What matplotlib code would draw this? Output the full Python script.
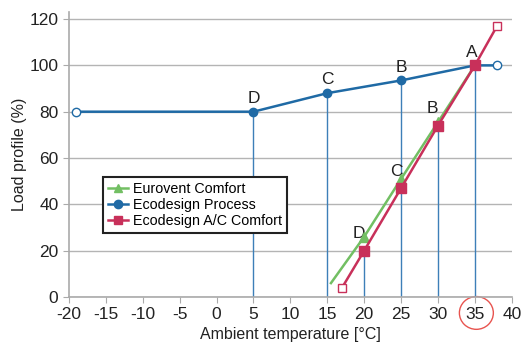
import matplotlib.pyplot as plt
from matplotlib.patches import Ellipse
from matplotlib.transforms import blended_transform_factory

plt.rcParams['font.family'] = ['Liberation Sans', 'DejaVu Sans']
plt.rcParams['axes.unicode_minus'] = False

# Ecodesign Process
proc_x = [5, 15, 25, 35]
proc_y = [80, 88, 93.5, 100]
proc_labels = ['D', 'C', 'B', 'A']
proc_ext_x = [-19, 38]
proc_ext_y = [80, 100]

# Ecodesign A/C Comfort
ac_x = [20, 25, 30, 35]
ac_y = [20, 47, 74, 100]
ac_labels = ['D', 'C', 'B', '']
ac_ext_x = [17, 38]
ac_ext_y = [4, 117]

# Eurovent Comfort
euro_x = [20, 25, 30, 35]
euro_y = [26, 51, 75.5, 100]
euro_start = (15.5, 6)

blue = '#1f6aa5'
vblue = '#3d7fb8'
red = '#c8305a'
green = '#72bf63'

fig = plt.figure(figsize=(5.26, 3.42), dpi=100)
ax = fig.add_axes([0.131, 0.1316, 0.842, 0.833])

# vertical drop lines from the process points and two A/C points
for x, y in zip(proc_x + [ac_x[0], ac_x[2]], proc_y + [ac_y[0], ac_y[2]]):
    ax.plot([x, x], [0, y], color=vblue, lw=1.0, zorder=2)

# Ecodesign Process line
ax.plot([proc_ext_x[0]] + proc_x + [proc_ext_x[1]],
        [proc_ext_y[0]] + proc_y + [proc_ext_y[1]],
        color=blue, lw=1.8, zorder=3)
ax.plot(proc_x, proc_y, 'o', color=blue, ms=6, zorder=4)
ax.plot(proc_ext_x, proc_ext_y, 'o', mfc='white', mec=blue, ms=6, mew=1, zorder=4)

# Eurovent Comfort
ax.plot([euro_start[0]] + euro_x, [euro_start[1]] + euro_y, color=green, lw=1.8, zorder=3)
ax.plot(euro_x[:3], euro_y[:3], '^', color=green, ms=7, zorder=4)

# Ecodesign A/C Comfort
ax.plot([ac_ext_x[0]] + ac_x + [ac_ext_x[1]],
        [ac_ext_y[0]] + ac_y + [ac_ext_y[1]],
        color=red, lw=1.8, zorder=5)
ax.plot(ac_x, ac_y, 's', color=red, ms=6.5, zorder=6)
ax.plot(ac_ext_x, ac_ext_y, 's', mfc='white', mec=red, ms=6, mew=1, zorder=6)

# point labels
for x, y, t in zip(proc_x, proc_y, proc_labels):
    dx = -0.4 if t == 'A' else 0
    ax.text(x + dx, y + 2.5, t, ha='center', va='bottom', fontsize=12.5, color='#222222')
for x, y, t in zip(ac_x, ac_y, ac_labels):
    ax.text(x - 0.7, y + 4, t, ha='center', va='bottom', fontsize=12.5, color='#222222')

# legend proxies
h1, = ax.plot([], [], '^-', color=green, ms=6, lw=1.8)
h2, = ax.plot([], [], 'o-', color=blue, ms=6, lw=1.8)
h3, = ax.plot([], [], 's-', color=red, ms=6, lw=1.8)
leg = ax.legend([h1, h2, h3], ['Eurovent Comfort', 'Ecodesign Process', 'Ecodesign A/C Comfort'],
                loc='upper left', bbox_to_anchor=(0.06, 0.445),
                fontsize=10.3, handlelength=1.4, handletextpad=0.4, labelspacing=0.12,
                borderpad=0.35, fancybox=False, framealpha=1)
leg.get_frame().set_edgecolor('#222222')
leg.get_frame().set_linewidth(1.5)

ax.set_xlim(-20, 40)
ax.set_ylim(0, 123)
ax.set_xticks(range(-20, 41, 5))
ax.set_yticks(range(0, 121, 20))
ax.tick_params(labelsize=12.5, colors='#222222', length=4, color='#aaaaaa')
ax.grid(axis='y', color='#b4b4b4', lw=1)
ax.set_axisbelow(True)
for s in ['top', 'right']:
    ax.spines[s].set_visible(False)
for s in ['left', 'bottom']:
    ax.spines[s].set_color('#aaaaaa')
    ax.spines[s].set_linewidth(1.2)
ax.set_xlabel('Ambient temperature [°C]', fontsize=11.5, color='#222222', labelpad=3)
ax.set_ylabel('Load profile (%)', fontsize=11.5, color='#222222', labelpad=2)

# red circle around the 35 tick label
tr = blended_transform_factory(ax.transData, ax.transAxes)
ax.add_patch(Ellipse((35.2, -0.056), 4.6, 0.115, transform=tr, fill=False,
                     edgecolor='#e8544f', lw=1, clip_on=False))

fig.savefig('out.png', dpi=100)
